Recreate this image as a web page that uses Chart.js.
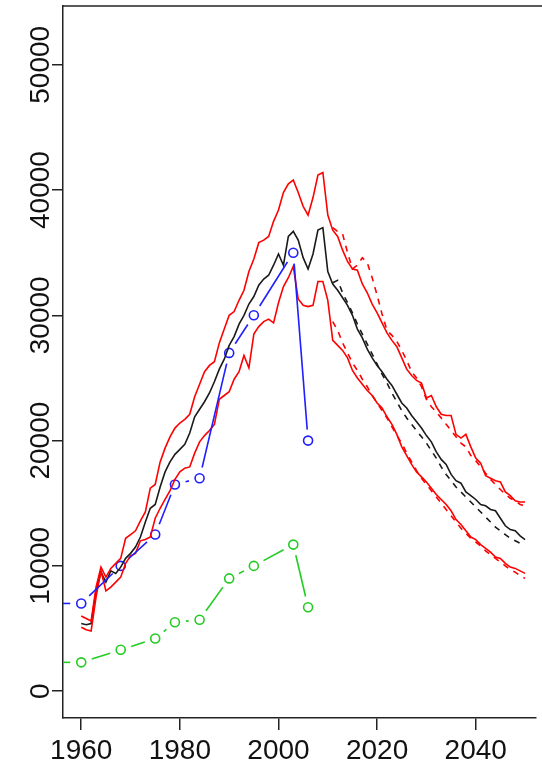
<!DOCTYPE html>
<html>
<head>
<meta charset="utf-8">
<script src="https://cdn.jsdelivr.net/npm/chart.js@4"></script>
<style>
  html, body { margin: 0; padding: 0; background: #fff; }
  canvas { display: block; }
</style>
</head>
<body>
<canvas id="chart" width="542" height="772"></canvas>
<script>
// yearly series 1960..2050
const years = [];
for (let y = 1960; y <= 2050; y++) years.push(y);

const central = [
  5400, 5300, 5400, 8000, 9500, 8700, 9600, 9400, 9900, 10600,
  11000, 11500, 12300, 13500, 14600, 14900, 16300, 17500, 18300, 18900,
  19300, 19700, 20600, 21900, 22500, 23100, 23800, 24700, 25700, 26500,
  27600, 28300, 29300, 30000, 30900, 31500, 32400, 32900, 33200, 34000,
  34900, 34000, 36300, 36700, 36000, 34600, 33700, 34900, 36800, 37000,
  33500, 32500, 32000, 31400, 30800, 30000, 28900, 28200, 27300, 26600,
  26000, 25500, 24900, 24400, 23700, 23000, 22600, 22000, 21500, 21000,
  20400, 19900, 19100, 18500, 18100, 17300, 16800, 16600, 15900, 15600,
  15300, 14900, 14800, 14500, 14400, 13800, 13200, 12900, 12800, 12400, 12100
];
const upper = [
  6000, 5800, 5600, 8300, 9900, 9100, 9800, 10200, 10600, 12200,
  12500, 12800, 13600, 14300, 16200, 16500, 18300, 19400, 20300, 21000,
  21400, 21700, 22100, 23500, 24500, 25500, 26000, 26300, 27800, 28900,
  30000, 30300, 31200, 32000, 33500, 34500, 35800, 36000, 36300, 37500,
  38400, 39800, 40500, 40800, 39800, 38700, 38000, 39400, 41200, 41400,
  38000, 36800, 36300, 35200, 34300, 33700, 33600, 32500, 31800, 30900,
  30200, 29400, 28600, 28000, 27500, 26600, 25700, 25200, 24800, 24600,
  23400, 23600, 22700, 22100, 22000, 22000, 20500, 20200, 20500, 19500,
  18600, 18200, 17200, 17000, 16800, 16700, 15900, 15600, 15200, 15100, 15100
];
const lower = [
  5100, 4900, 4800, 7500, 9600, 8000, 8300, 8700, 9100, 10200,
  10800, 11000, 12000, 12100, 12300, 13800, 14600, 15300, 16000, 16900,
  17500, 17800, 17900, 19000, 19900, 20400, 20800, 21300, 23300, 23600,
  23900, 24900, 25500, 26800, 25800, 28500, 29100, 29500, 29700, 29400,
  31000, 32300, 33000, 33900, 31300, 30800, 30700, 30800, 32700, 32700,
  31200, 28000, 27600, 27200, 26600, 25600, 25000, 24500, 24000, 23600,
  23000, 22600, 21900, 21300, 20500, 19500, 18800, 18100, 17500, 17100,
  16700, 16200, 15700, 15300, 14900, 14400, 13700, 13300, 12800, 12300,
  12100, 11700, 11400, 11100, 10700, 10600, 10200, 9900, 9800, 9600, 9400
];

// projection runs 2011..2050 (dashed)
const projYears = [];
for (let y = 2011; y <= 2050; y++) projYears.push(y);

const centralProj = [
  32600, 32800, 31800, 31000, 30200, 29300, 28500, 27700, 26900, 26100,
  25300, 24600, 23800, 23100, 22400, 21800, 21300, 20800, 20300, 19800,
  19200, 18600, 17900, 17300, 16800, 16300, 15900, 15500, 15100, 14700,
  14300, 13900, 13500, 13100, 12800, 12500, 12200, 12000, 11800, 11700
];
const upperProj = [
  37000, 36700, 36500, 35000, 33700, 34000, 34600, 34200, 33000, 31600,
  30100, 28800, 28400, 27900, 27200, 26400, 25500, 25000, 24300, 23300,
  22700, 22300, 21800, 21300, 20800, 20300, 19800, 19500, 18800, 18400,
  17900, 17400, 16900, 16500, 16100, 15700, 15400, 15200, 14900, 14800
];
const lowerProj = [
  29500, 28800, 27800, 27000, 26200, 25600, 24900, 24300, 23600, 23000,
  22400, 21800, 21100, 20400, 19800, 19000, 18300, 17600, 17000, 16500,
  16000, 15500, 15000, 14500, 14000, 13500, 13000, 12600, 12200, 11900,
  11600, 11200, 10900, 10600, 10300, 10000, 9700, 9500, 9200, 9000
];

// survey points
const surveyYears = [1950, 1960, 1968, 1975, 1979, 1984, 1990, 1995, 2003, 2006];
const blueCounts = [7000, 7000, 10000, 12500, 16500, 17000, 27000, 30000, 35000, 20000];
const greenCounts = [2300, 2300, 3300, 4200, 5500, 5700, 9000, 10000, 11700, 6700];

const xTicks = [1960, 1980, 2000, 2020, 2040];
const yTicks = [0, 10000, 20000, 30000, 40000, 50000];

function pairs(xs, ys) {
  return xs.map((x, i) => ({ x: x, y: ys[i] }));
}

// R type="b": segments that stop short of each point
const GAP = 11;
const gappedLines = {
  id: 'gappedLines',
  afterDatasetsDraw(chart) {
    const ctx = chart.ctx;
    const area = chart.chartArea;
    ctx.save();
    ctx.beginPath();
    ctx.rect(area.left, area.top, area.right - area.left, area.bottom - area.top);
    ctx.clip();
    chart.data.datasets.forEach((ds, i) => {
      if (!ds.gapLine) return;
      const pts = chart.getDatasetMeta(i).data;
      ctx.strokeStyle = ds.borderColor;
      ctx.lineWidth = 1.6;
      for (let k = 1; k < pts.length; k++) {
        const a = pts[k - 1], b = pts[k];
        const dx = b.x - a.x, dy = b.y - a.y;
        const len = Math.hypot(dx, dy);
        if (len <= 2 * GAP) continue;
        const ux = dx / len, uy = dy / len;
        ctx.beginPath();
        ctx.moveTo(a.x + ux * GAP, a.y + uy * GAP);
        ctx.lineTo(b.x - ux * GAP, b.y - uy * GAP);
        ctx.stroke();
      }
    });
    ctx.restore();
  }
};

// top edge of the box
const topBorder = {
  id: 'topBorder',
  afterDraw(chart) {
    const ctx = chart.ctx;
    const area = chart.chartArea;
    ctx.save();
    ctx.strokeStyle = '#222';
    ctx.lineWidth = 1.5;
    ctx.beginPath();
    ctx.moveTo(area.left, area.top);
    ctx.lineTo(chart.width, area.top);
    ctx.stroke();
    ctx.restore();
  }
};

function line(data, color, dashed) {
  return {
    data: data,
    borderColor: color,
    borderWidth: 1.6,
    borderDash: dashed ? [6, 6] : [],
    pointRadius: 0,
    tension: 0,
    fill: false
  };
}

function survey(data, color) {
  return {
    data: data,
    showLine: false,
    gapLine: true,
    borderColor: color,
    pointStyle: 'circle',
    pointRadius: 4.5,
    pointBorderWidth: 1.6,
    pointBorderColor: color,
    pointBackgroundColor: 'rgba(0,0,0,0)'
  };
}

const tickFont = { family: 'Liberation Sans, Arial, sans-serif', size: 28 };

const ctx = document.getElementById('chart').getContext('2d');
const chart = new Chart(ctx, {
  type: 'line',
  data: {
    datasets: [
      line(pairs(years, upper), '#ff0000', false),
      line(pairs(years, lower), '#ff0000', false),
      line(pairs(projYears, upperProj), '#ff0000', true),
      line(pairs(projYears, lowerProj), '#ff0000', true),
      line(pairs(years, central), '#1a1a1a', false),
      line(pairs(projYears, centralProj), '#1a1a1a', true),
      survey(pairs(surveyYears, blueCounts), '#1f1fff'),
      survey(pairs(surveyYears, greenCounts), '#22cc22')
    ]
  },
  options: {
    responsive: false,
    animation: false,
    devicePixelRatio: 1,
    layout: { padding: { top: 2, left: 0, right: 0, bottom: 0 } },
    plugins: { legend: { display: false }, tooltip: { enabled: false } },
    scales: {
      x: {
        type: 'linear',
        min: 1956.3,
        max: 2052.2,
        afterBuildTicks: s => { s.ticks = xTicks.map(v => ({ value: v })); },
        afterFit: s => { s.height = 54; s.paddingLeft = 0; s.paddingRight = 0; },
        grid: { drawOnChartArea: false, drawTicks: true, tickLength: 12, color: '#222', lineWidth: 1.5 },
        border: { display: true, color: '#222', width: 1.5 },
        ticks: { font: tickFont, color: '#111', padding: 4, maxRotation: 0, autoSkip: false,
                 callback: v => String(v) }
      },
      y: {
        type: 'linear',
        min: -2143,
        max: 54683,
        afterBuildTicks: s => { s.ticks = yTicks.map(v => ({ value: v })); },
        afterFit: s => { s.width = 63; s.paddingTop = 0; s.paddingBottom = 0; },
        grid: { drawOnChartArea: false, drawTicks: true, tickLength: 11, color: '#222', lineWidth: 1.5 },
        border: { display: true, color: '#222', width: 1.5 },
        ticks: { font: tickFont, color: '#111', minRotation: 90, maxRotation: 90,
                 crossAlign: 'center', padding: -28, autoSkip: false,
                 callback: v => String(v) }
      }
    }
  },
  plugins: [gappedLines, topBorder]
});
</script>
</body>
</html>
